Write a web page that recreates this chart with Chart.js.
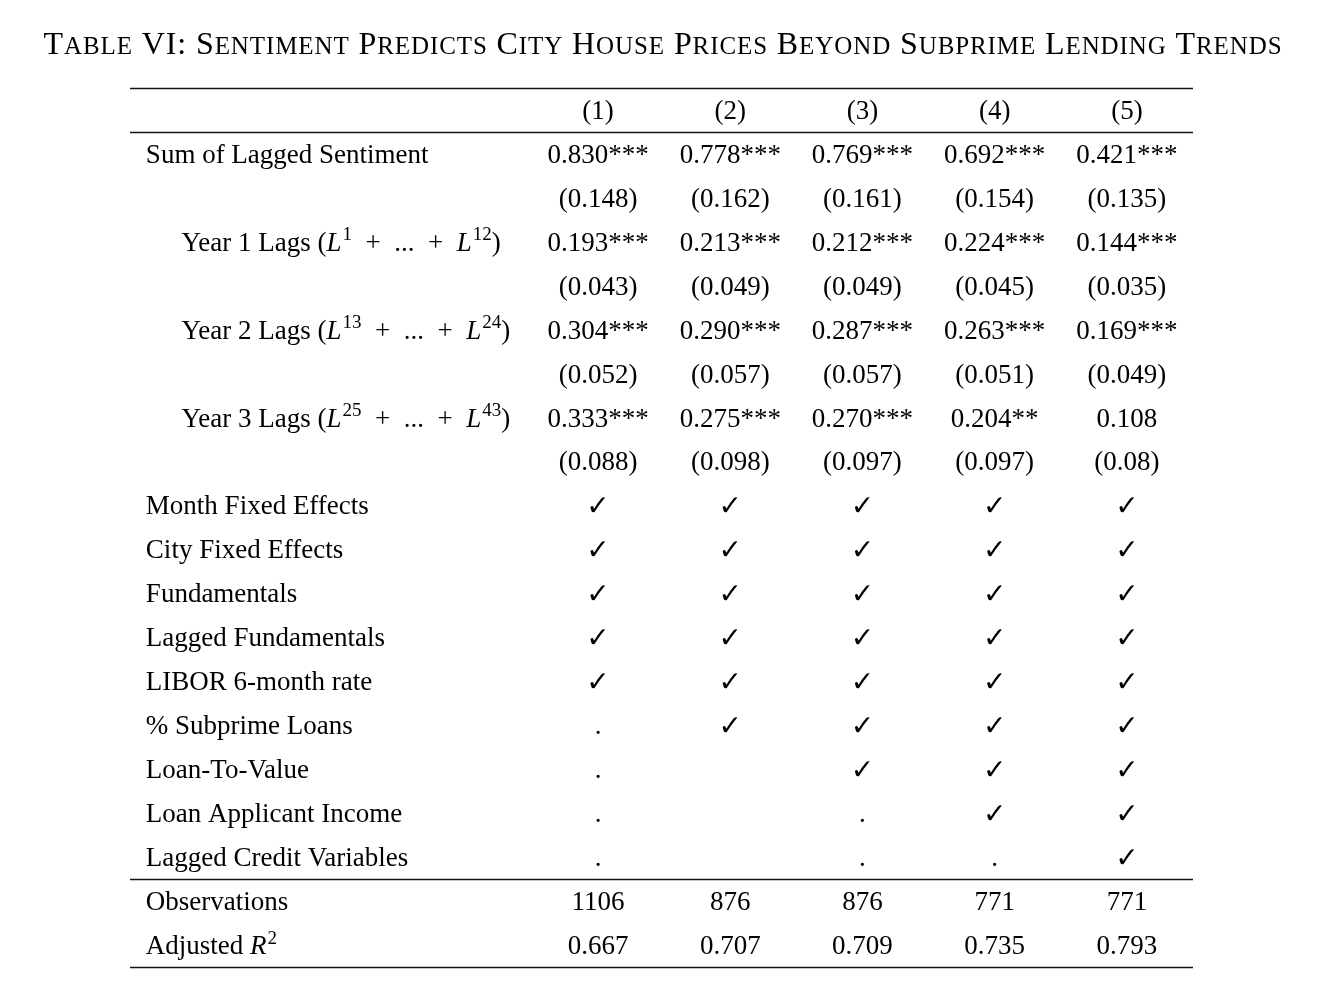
<!DOCTYPE html>
<html>
<head>
<meta charset="utf-8">
<script src="https://cdn.jsdelivr.net/npm/chart.js@4.4.0/dist/chart.umd.min.js"></script>
<style>
  body { margin: 0; background: #fff; }
  #wrap { width: 1318px; height: 996px; position: relative; }
</style>
</head>
<body>
<div id="wrap"><canvas id="tableChart"></canvas></div>
<script>
const TITLE = 'Table VI: Sentiment Predicts City House Prices Beyond Subprime Lending Trends';

const colHeaders = ['(1)', '(2)', '(3)', '(4)', '(5)'];

// body rows, top to bottom (header row is row 0)
const rowLabels = [
  'Sum of Lagged Sentiment', '',
  'Year 1 Lags (L^{1} + ... + L^{12})', '',
  'Year 2 Lags (L^{13} + ... + L^{24})', '',
  'Year 3 Lags (L^{25} + ... + L^{43})', '',
  'Month Fixed Effects', 'City Fixed Effects', 'Fundamentals', 'Lagged Fundamentals',
  'LIBOR 6-month rate', '% Subprime Loans', 'Loan-To-Value', 'Loan Applicant Income',
  'Lagged Credit Variables',
  'Observations', 'Adjusted R^{2}'
];
const indentedRows = [2, 4, 6];

const col1 = ['0.830***', '(0.148)', '0.193***', '(0.043)', '0.304***', '(0.052)', '0.333***', '(0.088)',
  '✓', '✓', '✓', '✓', '✓', '.', '.', '.', '.', '1106', '0.667'];
const col2 = ['0.778***', '(0.162)', '0.213***', '(0.049)', '0.290***', '(0.057)', '0.275***', '(0.098)',
  '✓', '✓', '✓', '✓', '✓', '✓', '', '', '', '876', '0.707'];
const col3 = ['0.769***', '(0.161)', '0.212***', '(0.049)', '0.287***', '(0.057)', '0.270***', '(0.097)',
  '✓', '✓', '✓', '✓', '✓', '✓', '✓', '.', '.', '876', '0.709'];
const col4 = ['0.692***', '(0.154)', '0.224***', '(0.045)', '0.263***', '(0.051)', '0.204**', '(0.097)',
  '✓', '✓', '✓', '✓', '✓', '✓', '✓', '✓', '.', '771', '0.735'];
const col5 = ['0.421***', '(0.135)', '0.144***', '(0.035)', '0.169***', '(0.049)', '0.108', '(0.08)',
  '✓', '✓', '✓', '✓', '✓', '✓', '✓', '✓', '✓', '771', '0.793'];

const columns = [col1, col2, col3, col4, col5];

// horizontal rules, in row units
const rules = [-0.5, 0.5, 17.5, 19.5];

const SERIF = '"Liberation Serif", "Times New Roman", serif';
const FS = 27;

function cellPoints(x, texts, startRow) {
  return texts.map((t, i) => ({ x: x, y: i + startRow, text: t }));
}

const datasets = [];
datasets.push({ kind: 'header', data: colHeaders.map((t, i) => ({ x: i + 1, y: 0, text: t })) });
datasets.push({
  kind: 'label',
  data: rowLabels.map((t, i) => ({ x: indentedRows.includes(i) ? -2.15 : -2.42, y: i + 1, text: t }))
});
columns.forEach((col, ci) => {
  datasets.push({ kind: 'cell', data: cellPoints(ci + 1, col, 1) });
});
datasets.forEach(ds => { ds.pointRadius = 0; ds.pointHoverRadius = 0; ds.showLine = false; });

// "L^{12}" -> italic letter + superscript; math spaces around +
function drawRich(ctx, text, x, y) {
  const parts = text.replace(/ \+ /g, '\u2002+\u2002').split(/([LR])\^\{(\d+)\}/);
  let cx = x;
  for (let i = 0; i < parts.length; i++) {
    if (i % 3 === 0) {
      ctx.font = FS + 'px ' + SERIF;
      ctx.fillText(parts[i], cx, y);
      cx += ctx.measureText(parts[i]).width;
    } else if (i % 3 === 1) {
      ctx.font = 'italic ' + FS + 'px ' + SERIF;
      ctx.fillText(parts[i], cx, y);
      cx += ctx.measureText(parts[i]).width + 1;
    } else {
      ctx.font = Math.round(FS * 0.7) + 'px ' + SERIF;
      ctx.fillText(parts[i], cx, y - FS * 0.38);
      cx += ctx.measureText(parts[i]).width;
    }
  }
}

// small caps by hand: capitals big, lower case as smaller capitals
function drawSmallCaps(ctx, text, cx, y, big, small, spacing) {
  const pieces = [];
  let total = 0;
  for (const ch of text) {
    const isLower = ch !== ch.toUpperCase();
    const font = (isLower ? small : big) + 'px ' + SERIF;
    ctx.font = font;
    const c = ch.toUpperCase();
    const w = ctx.measureText(c).width + spacing;
    pieces.push({ c, font, w });
    total += w;
  }
  let x = cx - total / 2;
  ctx.textAlign = 'left';
  pieces.forEach(p => {
    ctx.font = p.font;
    ctx.fillText(p.c, x, y);
    x += p.w;
  });
}

const tablePlugin = {
  id: 'tableText',
  afterDatasetsDraw(chart) {
    const ctx = chart.ctx;
    const area = chart.chartArea;
    const yScale = chart.scales.y;
    ctx.save();
    ctx.fillStyle = '#000';
    ctx.strokeStyle = '#111';
    ctx.lineWidth = 1.3;

    rules.forEach(r => {
      const py = Math.round(yScale.getPixelForValue(r)) + 0.5;
      ctx.beginPath();
      ctx.moveTo(area.left, py);
      ctx.lineTo(area.right, py);
      ctx.stroke();
    });

    ctx.textBaseline = 'alphabetic';
    chart.data.datasets.forEach((ds, di) => {
      const meta = chart.getDatasetMeta(di);
      meta.data.forEach((pt, i) => {
        const text = ds.data[i].text;
        if (!text) return;
        const base = pt.y + FS * 0.33;
        if (ds.kind === 'label') {
          ctx.textAlign = 'left';
          drawRich(ctx, text, pt.x, base);
        } else if (text === '✓') {
          ctx.textAlign = 'center';
          ctx.font = 'bold 28px "DejaVu Sans"';
          ctx.fillText(text, pt.x, base + 1);
        } else {
          ctx.textAlign = 'center';
          ctx.font = FS + 'px ' + SERIF;
          ctx.fillText(text, pt.x, base);
        }
      });
    });

    drawSmallCaps(ctx, TITLE, 663, 54, 32, 25, 0.9);
    ctx.restore();
  }
};

new Chart(document.getElementById('tableChart'), {
  type: 'scatter',
  data: { datasets: datasets },
  options: {
    responsive: true,
    maintainAspectRatio: false,
    animation: false,
    events: [],
    layout: { padding: { left: 130, right: 125, top: 88, bottom: 29 } },
    plugins: { legend: { display: false }, tooltip: { enabled: false } },
    scales: {
      x: { type: 'linear', min: -2.54, max: 5.5, display: false },
      y: { type: 'linear', min: -0.5, max: 19.5, reverse: true, display: false }
    }
  },
  plugins: [tablePlugin]
});
</script>
</body>
</html>
